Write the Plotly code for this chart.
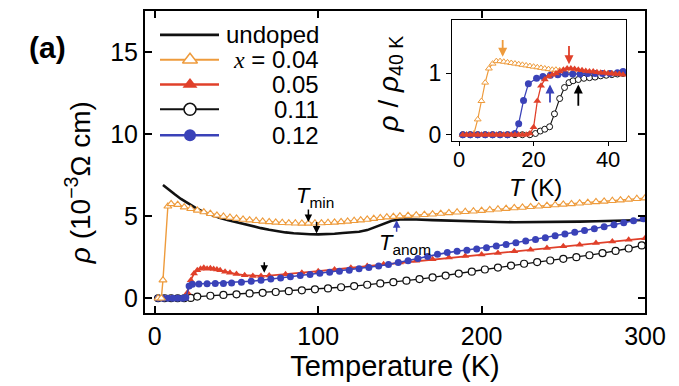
import plotly.graph_objects as go

# ---------------- data: main panel ----------------
T_undoped = [5, 8, 12, 16, 20, 25, 30, 35, 40, 45, 50, 55, 60, 65, 70, 75, 80, 85, 90, 95, 100,
             105, 110, 115, 120, 125, 130, 135, 140, 145, 150, 155, 160, 170, 180, 190, 200, 210,
             220, 230, 240, 250, 260, 270, 280, 290, 300]
rho_undoped = [6.9, 6.65, 6.35, 6.05, 5.8, 5.5, 5.25, 5.05, 4.88, 4.75, 4.62, 4.5, 4.38, 4.27, 4.17,
               4.08, 4.01, 3.96, 3.92, 3.9, 3.89, 3.9, 3.93, 3.97, 4.0, 4.05, 4.15, 4.35, 4.55, 4.72,
               4.8, 4.82, 4.8, 4.76, 4.72, 4.69, 4.66, 4.64, 4.63, 4.63, 4.64, 4.65, 4.67, 4.69,
               4.72, 4.75, 4.77]

T_x004 = [2, 4, 5, 8, 10, 14, 18, 22, 26, 30, 34, 38, 42, 46, 50, 54, 58, 62, 66, 70, 74, 78, 82,
          86, 90, 94, 98, 102, 106, 110, 114, 118, 122, 126, 130, 134, 138, 142, 146, 150, 155, 160,
          165, 170, 175, 180, 185, 190, 195, 200, 205, 210, 215, 220, 225, 230, 235, 240, 245, 250,
          255, 260, 265, 270, 275, 280, 285, 290, 295, 300]
rho_x004 = [0, 0, 1.1, 5.6, 5.75, 5.7, 5.55, 5.45, 5.35, 5.25, 5.15, 5.05, 4.98, 4.92, 4.86, 4.8,
            4.76, 4.72, 4.68, 4.65, 4.62, 4.6, 4.58, 4.57, 4.56, 4.56, 4.57, 4.58, 4.6, 4.62, 4.65,
            4.68, 4.72, 4.76, 4.8, 4.85, 4.9, 4.94, 4.97, 5.0, 5.03, 5.06, 5.09, 5.12, 5.16, 5.2,
            5.24, 5.27, 5.3, 5.34, 5.38, 5.42, 5.46, 5.5, 5.53, 5.57, 5.6, 5.64, 5.68, 5.72, 5.75,
            5.79, 5.83, 5.87, 5.9, 5.94, 5.98, 6.02, 6.06, 6.1]

T_x005 = [2, 6, 10, 14, 18, 20, 22, 24, 26, 28, 30, 32, 34, 36, 38, 40, 43, 46, 50, 55, 60, 65, 70,
          80, 90, 100, 110, 120, 130, 140, 150, 160, 170, 180, 190, 200, 210, 220, 230, 240, 250,
          260, 270, 280, 290, 300]
rho_x005 = [0, 0, 0, 0, 0.02, 0.35, 1.1, 1.5, 1.7, 1.8, 1.85, 1.8, 1.82, 1.78, 1.75, 1.7, 1.62,
            1.55, 1.47, 1.4, 1.36, 1.36, 1.38, 1.46, 1.55, 1.65, 1.75, 1.85, 1.96, 2.07, 2.18, 2.28,
            2.38, 2.48, 2.57, 2.66, 2.76, 2.86, 2.96, 3.06, 3.16, 3.26, 3.36, 3.46, 3.56, 3.65]

T_x011 = [2, 6, 10, 14, 18, 22, 26, 34, 42, 50, 58, 66, 74, 82, 90, 98, 106, 114, 122, 130, 138,
          146, 154, 162, 170, 178, 186, 194, 202, 210, 218, 226, 234, 242, 250, 258, 266, 274, 282,
          290, 298]
rho_x011 = [0, 0, 0, 0, 0, 0.02, 0.1, 0.15, 0.2, 0.24, 0.29, 0.33, 0.38, 0.43, 0.48, 0.54, 0.6,
            0.67, 0.74, 0.82, 0.9, 0.98, 1.07, 1.17, 1.27, 1.38, 1.5, 1.62, 1.75, 1.87, 1.99, 2.1,
            2.2, 2.3, 2.4, 2.5, 2.62, 2.75, 2.88, 3.03, 3.22]

T_x012 = [2, 5, 8, 11, 14, 17, 19, 21, 23, 27, 32, 37, 42, 47, 53, 59, 65, 71, 77, 83, 89, 95, 101,
          107, 113, 119, 125, 131, 137, 143, 149, 155, 161, 167, 173, 179, 185, 191, 197, 203, 209,
          215, 221, 227, 233, 239, 245, 251, 257, 263, 269, 275, 281, 287, 293, 299]
rho_x012 = [0, 0, 0, 0, 0, 0, 0.05, 0.75, 0.85, 0.87, 0.88, 0.89, 0.9, 0.93, 0.97, 1.03, 1.1,
            1.17, 1.24, 1.31, 1.38, 1.45, 1.52, 1.58, 1.64, 1.71, 1.79, 1.87, 1.96, 2.06, 2.17,
            2.29, 2.42, 2.55, 2.68, 2.78, 2.86, 2.93, 3.0, 3.08, 3.18, 3.28, 3.38, 3.48, 3.58, 3.69,
            3.8, 3.91, 4.02, 4.13, 4.24, 4.36, 4.48, 4.6, 4.72, 4.84]

# ---------------- data: inset (rho / rho_40K) ----------------
Ti_x004 = [1, 2, 3, 4, 5, 6, 7, 8, 9, 10, 11, 12, 13, 14, 15, 16, 17, 18, 19, 20, 21, 22, 23, 24,
           25, 26, 27, 28, 29, 30, 31, 32, 33, 34, 35, 36, 37, 38, 39, 40, 41, 42, 43, 44]
ri_x004 = [0, 0, 0, 0.02, 0.25, 0.55, 0.85, 1.08, 1.16, 1.2, 1.2, 1.19, 1.18, 1.17, 1.16, 1.15,
           1.14, 1.13, 1.12, 1.11, 1.1, 1.09, 1.08, 1.07, 1.06, 1.06, 1.05, 1.05, 1.04, 1.04, 1.03,
           1.03, 1.02, 1.02, 1.01, 1.01, 1.0, 1.0, 1.0, 1.0, 1.0, 0.99, 0.99, 0.99]

Ti_x005 = [1, 2, 3, 4, 5, 6, 7, 8, 9, 10, 11, 12, 13, 14, 15, 16, 17, 18, 19, 20, 21, 22, 23, 24,
           25, 26, 27, 28, 29, 30, 31, 32, 33, 34, 35, 36, 37, 38, 39, 40, 41, 42, 43, 44]
ri_x005 = [0, 0, 0, 0, 0, 0, 0, 0, 0, 0, 0, 0, 0, 0, 0, 0, 0, 0, 0.02, 0.12, 0.55, 0.8, 0.9, 0.95,
           0.98, 1.0, 1.03, 1.06, 1.08, 1.08, 1.07, 1.06, 1.05, 1.04, 1.03, 1.03, 1.02, 1.01, 1.01,
           1.0, 1.0, 0.99, 0.99, 0.98]

Ti_x011 = [1, 3, 5, 7, 9, 11, 13, 15, 17, 19, 20.5, 21.8, 23, 24.3, 25.6, 27, 28.3, 29.5, 30.6, 32,
           33.5, 35, 36.5, 38, 39.5, 41, 42.5, 44]
ri_x011 = [0, 0, 0, 0, 0, 0, 0, 0, 0, 0, 0.02, 0.06, 0.09, 0.13, 0.34, 0.59, 0.77, 0.85, 0.88, 0.9,
           0.92, 0.93, 0.94, 0.96, 0.97, 0.98, 0.99, 1.0]

Ti_x012 = [1, 3, 5, 7, 9, 11, 13, 15, 16, 17.3, 18.6, 20.8, 22.5, 24.5, 26.5, 28.5, 30.5, 32.5,
           34.5, 36.5, 38.5, 40.5, 42.5, 44]
ri_x012 = [0, 0, 0, 0, 0, 0, 0, 0.02, 0.18, 0.56, 0.83, 0.92, 0.95, 0.97, 0.98, 0.99, 0.99, 0.99,
           1.0, 1.0, 1.0, 1.0, 1.01, 1.03]

# legend labels
legend_labels = ["undoped", "<span style='font-family:Liberation Serif'><i>x</i></span> = 0.04",
                 "0.05", "0.11", "0.12"]

# ---------------- styles ----------------
ORANGE = "#EE9B3C"
RED = "#E0402A"
BLUE = "#3A42B8"
BLACK = "#111111"
FONT = "Liberation Sans, Arial, sans-serif"

# page body adds an 8 px offset; plot area kept at 500 x 304 px
ML, MT, PW, PH = 137, 1, 500, 304
W, H = 679, 386

fig = go.Figure()

# main panel
fig.add_trace(go.Scatter(x=T_undoped, y=rho_undoped, mode="lines",
                         line=dict(color=BLACK, width=2.6), showlegend=False))
fig.add_trace(go.Scatter(x=T_x011, y=rho_x011, mode="lines+markers",
                         line=dict(color=BLACK, width=1.3),
                         marker=dict(symbol="circle", size=7, color="white",
                                     line=dict(color=BLACK, width=1.2)), showlegend=False))
fig.add_trace(go.Scatter(x=T_x005, y=rho_x005, mode="lines+markers",
                         line=dict(color=RED, width=1.8),
                         marker=dict(symbol="triangle-up", size=7, color=RED), showlegend=False))
fig.add_trace(go.Scatter(x=T_x012, y=rho_x012, mode="lines+markers",
                         line=dict(color=BLUE, width=1.6),
                         marker=dict(symbol="circle", size=7, color=BLUE), showlegend=False))
fig.add_trace(go.Scatter(x=T_x004, y=rho_x004, mode="lines+markers",
                         line=dict(color=ORANGE, width=1.4),
                         marker=dict(symbol="triangle-up", size=7, color="white",
                                     line=dict(color=ORANGE, width=1.1)), showlegend=False))

# inset
fig.add_trace(go.Scatter(x=Ti_x004, y=ri_x004, mode="lines+markers", xaxis="x2", yaxis="y2",
                         line=dict(color=ORANGE, width=1.2),
                         marker=dict(symbol="triangle-up", size=6, color="white",
                                     line=dict(color=ORANGE, width=1)), showlegend=False))
fig.add_trace(go.Scatter(x=Ti_x011, y=ri_x011, mode="lines+markers", xaxis="x2", yaxis="y2",
                         line=dict(color=BLACK, width=1.1),
                         marker=dict(symbol="circle", size=6, color="white",
                                     line=dict(color=BLACK, width=1)), showlegend=False))
fig.add_trace(go.Scatter(x=Ti_x012, y=ri_x012, mode="lines+markers", xaxis="x2", yaxis="y2",
                         line=dict(color=BLUE, width=1.3),
                         marker=dict(symbol="circle", size=7, color=BLUE), showlegend=False))
fig.add_trace(go.Scatter(x=Ti_x005, y=ri_x005, mode="lines+markers", xaxis="x2", yaxis="y2",
                         line=dict(color=RED, width=1.3),
                         marker=dict(symbol="triangle-up", size=7, color=RED), showlegend=False))

# ---------------- hand-made legend on an overlay axis (units = px inside the plot frame) ----------------
leg_styles = [
    dict(line=dict(color=BLACK, width=2.6), marker=None),
    dict(line=dict(color=ORANGE, width=2), marker=dict(symbol="triangle-up", size=13, color="white",
                                                        line=dict(color=ORANGE, width=1.5))),
    dict(line=dict(color=RED, width=2.4), marker=dict(symbol="triangle-up", size=13, color=RED)),
    dict(line=dict(color=BLACK, width=2), marker=dict(symbol="circle", size=12, color="white",
                                                       line=dict(color=BLACK, width=1.5))),
    dict(line=dict(color=BLUE, width=2.4), marker=dict(symbol="circle", size=12, color=BLUE)),
]
row_px = [24, 49, 74, 99, 125]
annotations = []
for lab, st, ry in zip(legend_labels, leg_styles, row_px):
    fig.add_trace(go.Scatter(x=[15, 74], y=[ry, ry], mode="lines", line=st["line"],
                             xaxis="x3", yaxis="y3", showlegend=False, hoverinfo="skip"))
    if st["marker"] is not None:
        fig.add_trace(go.Scatter(x=[45], y=[ry], mode="markers", marker=st["marker"],
                                 xaxis="x3", yaxis="y3", showlegend=False, hoverinfo="skip"))
    annotations.append(dict(xref="x3", yref="y3", x=176, y=ry, text=lab, showarrow=False,
                            xanchor="right", yanchor="middle",
                            font=dict(size=24, color="black", family=FONT)))

# ---------------- text labels ----------------
annotations += [
    dict(xref="paper", yref="paper", x=-0.196, y=0.879, text="<b>(a)</b>", showarrow=False,
         xanchor="center", yanchor="middle", font=dict(size=30, family=FONT, color="black")),
    dict(xref="paper", yref="paper", x=-0.134, y=0.43, textangle=-90, showarrow=False,
         xanchor="center", yanchor="middle",
         text="<i>ρ</i> (10<sup>−3</sup>Ω cm)", font=dict(size=28, family=FONT, color="black")),
    dict(xref="paper", yref="paper", x=0.49, y=0.757, textangle=-90, showarrow=False,
         xanchor="center", yanchor="middle",
         text="<i>ρ</i> / <i>ρ</i><sub>40 K</sub>", font=dict(size=28, family=FONT, color="black")),
    dict(xref="paper", yref="paper", x=0.78, y=0.414, showarrow=False,
         xanchor="center", yanchor="middle",
         text="<i>T</i> (K)", font=dict(size=24, family=FONT, color="black")),
    dict(x=98, y=6.15, text="<i>T</i><sub>min</sub>", showarrow=False, xanchor="center",
         yanchor="middle", font=dict(size=22, family=FONT, color="black")),
    dict(x=153, y=3.3, text="<i>T</i><sub>anom</sub>", showarrow=False, xanchor="center",
         yanchor="middle", font=dict(size=22, family=FONT, color="black")),
    # arrows main
    dict(x=94, y=4.65, ax=0, ay=-14, text="", showarrow=True, arrowhead=2, arrowsize=1,
         arrowwidth=1.5, arrowcolor="black"),
    dict(x=99, y=3.95, ax=0, ay=-13, text="", showarrow=True, arrowhead=2, arrowsize=1,
         arrowwidth=1.5, arrowcolor="black"),
    dict(x=67, y=1.55, ax=0, ay=-12, text="", showarrow=True, arrowhead=2, arrowsize=1,
         arrowwidth=1.5, arrowcolor="black"),
    dict(x=148, y=4.75, ax=0, ay=13, text="", showarrow=True, arrowhead=2, arrowsize=1,
         arrowwidth=1.5, arrowcolor=BLUE),
    # arrows inset
    dict(xref="x2", yref="y2", x=11.7, y=1.27, ax=11.7, ay=1.57, axref="x2", ayref="y2", text="",
         showarrow=True, arrowhead=2, arrowsize=1, arrowwidth=1.8, arrowcolor=ORANGE),
    dict(xref="x2", yref="y2", x=29.5, y=1.15, ax=29.5, ay=1.47, axref="x2", ayref="y2", text="",
         showarrow=True, arrowhead=2, arrowsize=1, arrowwidth=1.8, arrowcolor=RED),
    dict(xref="x2", yref="y2", x=24.4, y=0.82, ax=24.4, ay=0.5, axref="x2", ayref="y2", text="",
         showarrow=True, arrowhead=2, arrowsize=1, arrowwidth=1.8, arrowcolor=BLUE),
    dict(xref="x2", yref="y2", x=32, y=0.82, ax=32, ay=0.45, axref="x2", ayref="y2", text="",
         showarrow=True, arrowhead=2, arrowsize=1, arrowwidth=1.8, arrowcolor="black"),
]

axis_common = dict(showline=True, linecolor="black", showgrid=False, zeroline=False,
                   tickcolor="black", tickfont=dict(size=25, family=FONT, color="black"))

fig.update_layout(
    width=W, height=H,
    margin=dict(l=ML, r=W - ML - PW, t=MT, b=H - MT - PH),
    paper_bgcolor="white", plot_bgcolor="white",
    font=dict(family=FONT, color="black"),
    xaxis=dict(**axis_common, range=[-6, 300], tickvals=[0, 100, 200, 300], ticks="inside",
               ticklen=7, tickwidth=1.5, linewidth=2, mirror="ticks",
               title=dict(text="Temperature (K)", font=dict(size=29, family=FONT), standoff=4)),
    yaxis=dict(**axis_common, range=[-0.9, 17.5], tickvals=[0, 5, 10, 15], ticks="inside",
               ticklen=7, tickwidth=1.5, linewidth=2, mirror="ticks"),
    xaxis2=dict(**axis_common, domain=[0.614, 0.962], anchor="y2", range=[-1.9, 44.8],
                tickvals=[0, 20, 40], ticks="outside", ticklen=4, tickwidth=1.3, linewidth=1.4,
                mirror=True, ticklabelstandoff=-5),
    yaxis2=dict(**axis_common, domain=[0.57, 0.97], anchor="x2", range=[-0.1, 1.87],
                tickvals=[0, 1], ticks="outside", ticklen=5, tickwidth=1.3, linewidth=1.4,
                mirror=True),
    xaxis3=dict(overlaying="x", anchor="y3", range=[0, PW], visible=False),
    yaxis3=dict(overlaying="y", anchor="x3", range=[PH, 0], visible=False),
    annotations=annotations,
)
fig.update_xaxes(selector=dict(anchor="y2"), tickfont=dict(size=22))
fig.update_yaxes(selector=dict(anchor="x2"), tickfont=dict(size=23))

fig.write_html("out.html")
